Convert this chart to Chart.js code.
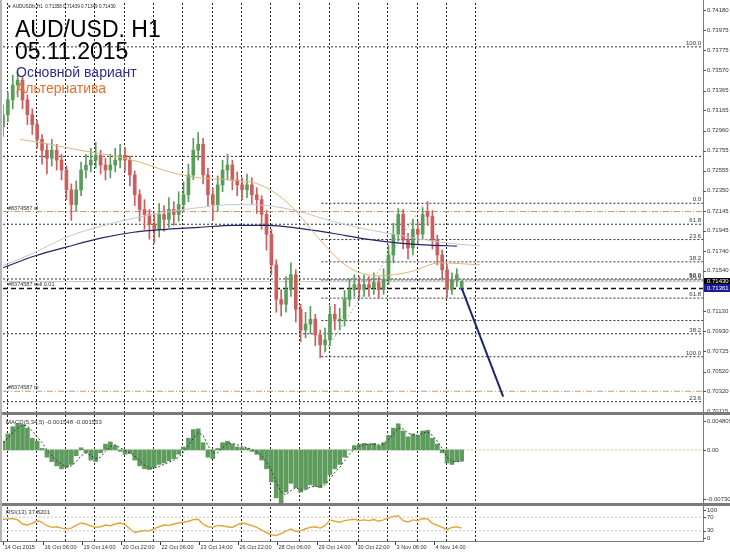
<!DOCTYPE html>
<html>
<head>
<meta charset="utf-8">
<title>AUD/USD H1</title>
<script src="https://cdn.jsdelivr.net/npm/chart.js@4.4.1/dist/chart.umd.min.js"></script>
<style>
  html, body { margin: 0; padding: 0; background: #fff; }
  body { position: relative; width: 730px; height: 552px; overflow: hidden; font-family: "Liberation Sans", Arial, sans-serif; }
  canvas { position: absolute; left: 0; }
  #main { top: 0; width: 730px; height: 412px; }
  #macd { top: 415px; width: 730px; height: 88px; }
  #rsi { top: 506px; width: 730px; height: 46px; }
  .sep { position: absolute; left: 0; width: 730px; height: 3px; background: #7b7b7b; }
  .edge { position: absolute; left: 0; top: 0; width: 2px; height: 541px; background: #b4b4b4; }
  .txt { position: absolute; white-space: nowrap; }
</style>
</head>
<body>
<canvas id="main" width="730" height="412"></canvas>
<div class="sep" style="top:412px"></div>
<canvas id="macd" width="730" height="88"></canvas>
<div class="sep" style="top:503px"></div>
<canvas id="rsi" width="730" height="46"></canvas>
<div class="edge"></div>
<div class="txt" style="left:7px;top:4px;font-size:4.6px;line-height:5px;color:#222">&#9660; AUDUSDfx,H1 &nbsp;0.71358 0.71439 0.71349 0.71430</div>
<div class="txt" style="left:15px;top:18px;font-size:23px;line-height:23px;color:#000">AUD/USD. H1</div>
<div class="txt" style="left:15px;top:40px;font-size:23px;line-height:23px;color:#000">05.11.2015</div>
<div class="txt" style="left:16px;top:65px;font-size:14px;line-height:14px;color:#2e2e8c">Основной вариант</div>
<div class="txt" style="left:16px;top:81px;font-size:14px;line-height:14px;color:#e8702a">Альтернатива</div>
<script>
// one candle every 4 hourly bars
const barsPerCandle = 4;

const candleOpen = [0.7300,0.7312,0.7327,0.7342,0.7347,0.7327,0.7312,0.7302,0.7287,0.7276,
  0.7268,0.7276,0.7266,0.7256,0.7236,0.7221,0.7236,0.7256,0.7261,0.7266,
  0.7271,0.7261,0.7256,0.7261,0.7266,0.7271,0.7266,0.7251,0.7231,0.7216,
  0.7211,0.7201,0.7196,0.7211,0.7206,0.7216,0.7211,0.7221,0.7231,0.7251,
  0.7276,0.7282,0.7251,0.7231,0.7221,0.7241,0.7256,0.7261,0.7246,0.7241,
  0.7236,0.7241,0.7231,0.7226,0.7211,0.7191,0.7160,0.7125,0.7120,0.7135,
  0.7150,0.7115,0.7094,0.7100,0.7105,0.7089,0.7079,0.7084,0.7110,0.7103,
  0.7105,0.7125,0.7135,0.7140,0.7135,0.7140,0.7137,0.7142,0.7135,0.7145,
  0.7170,0.7191,0.7211,0.7185,0.7177,0.7196,0.7191,0.7214,0.7209,0.7185,
  0.7170,0.7155,0.7135,0.7145,0.71358];
const candleClose = [0.7312,0.7327,0.7342,0.7347,0.7327,0.7312,0.7302,0.7287,0.7276,0.7268,
  0.7276,0.7266,0.7256,0.7236,0.7221,0.7236,0.7256,0.7261,0.7266,0.7271,
  0.7261,0.7256,0.7261,0.7266,0.7271,0.7266,0.7251,0.7231,0.7216,0.7211,
  0.7201,0.7196,0.7211,0.7206,0.7216,0.7211,0.7221,0.7231,0.7251,0.7276,
  0.7282,0.7251,0.7231,0.7221,0.7241,0.7256,0.7261,0.7246,0.7241,0.7236,
  0.7241,0.7231,0.7226,0.7211,0.7191,0.7160,0.7125,0.7120,0.7135,0.7150,
  0.7115,0.7094,0.7100,0.7105,0.7089,0.7079,0.7084,0.7110,0.7105,0.7105,
  0.7125,0.7135,0.7140,0.7135,0.7140,0.7137,0.7142,0.7135,0.7145,0.7170,
  0.7191,0.7211,0.7185,0.7177,0.7196,0.7191,0.7211,0.7209,0.7185,0.7170,
  0.7155,0.7135,0.7145,0.7150,0.71430];
const candleHigh = [0.7322,0.7335,0.7352,0.7356,0.7350,0.7332,0.7318,0.7306,0.7292,0.7282,
  0.7287,0.7282,0.7272,0.7260,0.7242,0.7245,0.7264,0.7272,0.7278,0.7284,
  0.7276,0.7268,0.7272,0.7278,0.7282,0.7279,0.7270,0.7255,0.7236,0.7226,
  0.7216,0.7212,0.7222,0.7220,0.7228,0.7224,0.7234,0.7244,0.7262,0.7288,
  0.7294,0.7288,0.7258,0.7238,0.7250,0.7266,0.7272,0.7266,0.7254,0.7248,
  0.7252,0.7248,0.7238,0.7230,0.7215,0.7196,0.7165,0.7135,0.7148,0.7162,
  0.7155,0.7120,0.7112,0.7118,0.7110,0.7094,0.7096,0.7118,0.7120,0.7116,
  0.7134,0.7146,0.7150,0.7148,0.7150,0.7148,0.7152,0.7148,0.7156,0.7180,
  0.7202,0.7217,0.7216,0.7192,0.7206,0.7204,0.7218,0.7224,0.7215,0.7190,
  0.7175,0.7160,0.7152,0.7156,0.71439];
const candleLow = [0.7290,0.7305,0.7318,0.7330,0.7318,0.7302,0.7292,0.7278,0.7262,0.7252,
  0.7260,0.7256,0.7246,0.7226,0.7205,0.7214,0.7230,0.7248,0.7254,0.7258,
  0.7252,0.7246,0.7248,0.7254,0.7258,0.7255,0.7240,0.7220,0.7204,0.7196,
  0.7186,0.7182,0.7188,0.7194,0.7198,0.7200,0.7204,0.7214,0.7224,0.7246,
  0.7266,0.7242,0.7220,0.7205,0.7214,0.7234,0.7246,0.7236,0.7230,0.7226,
  0.7228,0.7222,0.7212,0.7196,0.7175,0.7150,0.7112,0.7108,0.7112,0.7128,
  0.7102,0.7082,0.7086,0.7090,0.7078,0.7066,0.7072,0.7078,0.7094,0.7094,
  0.7098,0.7118,0.7128,0.7126,0.7128,0.7128,0.7130,0.7126,0.7130,0.7140,
  0.7162,0.7184,0.7176,0.7166,0.7170,0.7180,0.7186,0.7200,0.7176,0.7160,
  0.7146,0.7127,0.7130,0.7138,0.71349];

// moving averages: bar index / price
const navyMaBars = [0,26,52,80,107,134,161,189,216,243,270,298,325,350,372];
const navyMaPrices = [0.7157,0.7169,0.7178,0.7187,0.7193,0.7196,0.7198,0.7200,0.7200,0.7197,0.7192,0.7186,0.7182,0.7180,0.7179];
const greyMaBars = [0,25,52,80,110,137,161,189,216,243,270,298,325,358,391];
const greyMaPrices = [0.7159,0.7172,0.7188,0.7199,0.7208,0.7214,0.7218,0.7221,0.7220,0.7214,0.7204,0.7196,0.7190,0.7183,0.7179];
const tanMaBars = [14,39,63,88,112,137,161,186,211,235,260,284,309,334,358,391];
const tanMaPrices = [0.7287,0.7282,0.7276,0.7271,0.7264,0.7254,0.7248,0.7246,0.7241,0.7221,0.7185,0.7157,0.7149,0.7153,0.7162,0.7160];

// fibonacci levels
const fibANames = ["23.6","38.2","50.0","61.8","","100.0"];
const fibAPrices = [0.70215,0.70902,0.71457,0.72011,0.72698,0.73807];
const fibAStartBar = 0;
const fibBNames = ["0.0","23.6","38.2","50.0","61.8","","100.0"];
const fibBPrices = [0.72223,0.71856,0.71630,0.71447,0.71263,0.71036,0.70670];
const fibBStartBar = 261;
const fibBTrendBars = [261,345];
const fibBTrendPrices = [0.70670,0.72223];

// order lines
const orderNames = ["#8374587 sl","#8374587 sell 0.01","#8374587 tp"];
const orderPrices = [0.72140,0.71361,0.70320];
const bidPrice = 0.71430;

// forecast
const forecastBars = [376,410];
const forecastPrices = [0.71365,0.70266];

// indicators, one value per candle
const macdMain = [0.0012,0.0022,0.0032,0.0036,0.0035,0.0030,0.0016,0.0012,0.0002,-0.0010,
  -0.0016,-0.0022,-0.0026,-0.0024,-0.0020,-0.0008,0.0003,-0.0004,-0.0014,-0.0016,
  -0.0004,0.0008,0.0011,0.0006,-0.0002,-0.0006,-0.0005,-0.0014,-0.0022,-0.0026,
  -0.0027,-0.0024,-0.0020,-0.0018,-0.0015,-0.0012,-0.0006,0.0004,0.0016,0.0028,
  0.0029,0.0010,-0.0010,-0.0012,0.0002,0.0010,0.0012,0.0008,0.0004,0.0003,
  0.0002,-0.0002,-0.0006,-0.0014,-0.0026,-0.0044,-0.0066,-0.0073,-0.0058,-0.0046,
  -0.0052,-0.0058,-0.0054,-0.0048,-0.0050,-0.0052,-0.0046,-0.0034,-0.0026,-0.0020,
  -0.0010,0.0000,0.0006,0.0008,0.0009,0.0008,0.0009,0.0006,0.0010,0.0020,
  0.0030,0.0036,0.0026,0.0018,0.0022,0.0020,0.0026,0.0027,0.0016,0.0008,
  -0.0004,-0.0018,-0.0020,-0.0016,-0.001548];
const macdSignal = [0.0010,0.0016,0.0024,0.0030,0.0034,0.0033,0.0026,0.0018,0.0010,0.0000,
  -0.0008,-0.0015,-0.0020,-0.0023,-0.0022,-0.0016,-0.0008,-0.0004,-0.0008,-0.0012,
  -0.0010,-0.0002,0.0005,0.0007,0.0003,-0.0001,-0.0004,-0.0008,-0.0015,-0.0021,
  -0.0025,-0.0025,-0.0023,-0.0020,-0.0017,-0.0014,-0.0010,-0.0003,0.0006,0.0016,
  0.0024,0.0020,0.0006,-0.0004,-0.0004,0.0003,0.0009,0.0009,0.0007,0.0005,
  0.0003,0.0001,-0.0003,-0.0008,-0.0016,-0.0028,-0.0044,-0.0058,-0.0062,-0.0056,
  -0.0052,-0.0055,-0.0055,-0.0051,-0.0050,-0.0050,-0.0048,-0.0040,-0.0031,-0.0024,
  -0.0015,-0.0006,0.0001,0.0005,0.0007,0.0008,0.0008,0.0007,0.0008,0.0014,
  0.0022,0.0030,0.0029,0.0023,0.0021,0.0020,0.0023,0.0025,0.0020,0.0012,
  0.0002,-0.0010,-0.0016,-0.0016,-0.001553];
const rsiValues = [63,65,66,62,50,47,52,60,55,45,
  40,42,38,36,38,46,53,50,44,40,
  42,47,45,50,53,48,36,25,28,31,
  30,36,42,47,46,50,53,55,58,63,
  64,50,42,40,46,44,42,40,48,53,
  50,45,40,32,25,18,16,22,30,35,
  28,30,36,40,42,38,45,62,58,55,
  60,62,64,60,62,60,63,58,62,68,
  72,74,60,56,62,60,66,65,52,46,
  40,34,40,42,37.82];

// axes
const priceTicks = [0.74180,0.73975,0.73775,0.73570,0.73365,0.73165,0.72960,0.72755,0.72555,0.72350,
  0.72145,0.71945,0.71740,0.71540,0.71130,0.70930,0.70725,0.70520,0.70320,0.70115];
const dayStartBars = [3,27,51,75,99,123,147,171,195,219,243,267,291,315,339,363,387];
const timeLabels = ["14 Oct 2015","16 Oct 06:00","19 Oct 14:00","20 Oct 22:00","22 Oct 06:00","23 Oct 14:00",
  "26 Oct 22:00","28 Oct 06:00","29 Oct 14:00","30 Oct 22:00","3 Nov 06:00","4 Nov 14:00"];
const timeLabelBars = [0,33,65,97,129,161,193,225,257,289,321,353];

const xMax = 573.8;
const upColor = "#5a9c5a";
const downColor = "#cc5e5e";
const smallFont = '6px "Liberation Sans", Arial, sans-serif';

const candleBar = i => i * barsPerCandle;
const candleColors = candleClose.map((c, i) => c >= candleOpen[i] ? upColor : downColor);

const hLine = (x0, price, color, dash, width, order) => ({
    type: "line",
    data: [{x: x0, y: price}, {x: xMax, y: price}],
    borderColor: color,
    borderDash: dash,
    borderWidth: width,
    pointRadius: 0,
    order: order
});
const maLine = (bars, prices, color, width) => ({
    type: "line",
    data: bars.map((b, i) => ({x: b, y: prices[i]})),
    borderColor: color,
    borderWidth: width,
    pointRadius: 0,
    cubicInterpolationMode: "monotone",
    order: 1
});

const gridPlugin = {
    id: "dayGrid",
    beforeDatasetsDraw(chart) {
        const {ctx, chartArea: a, scales: {x}} = chart;
        ctx.save();
        ctx.strokeStyle = "#222";
        ctx.lineWidth = 1;
        ctx.setLineDash([2, 2]);
        dayStartBars.forEach(b => {
            const px = Math.round(x.getPixelForValue(b)) + 0.5;
            ctx.beginPath();
            ctx.moveTo(px, a.top);
            ctx.lineTo(px, a.bottom);
            ctx.stroke();
        });
        ctx.restore();
    },
    afterDraw(chart) {
        const {ctx, chartArea: a} = chart;
        ctx.save();
        ctx.strokeStyle = "#7a7a7a";
        ctx.lineWidth = 1;
        ctx.beginPath();
        ctx.moveTo(a.right + 0.5, 0);
        ctx.lineTo(a.right + 0.5, a.bottom);
        ctx.stroke();
        ctx.restore();
    }
};

const rightLabel = (ctx, a, y, text) => {
    ctx.beginPath();
    ctx.moveTo(a.right, Math.round(y) + 0.5);
    ctx.lineTo(a.right + 3, Math.round(y) + 0.5);
    ctx.stroke();
    ctx.fillText(text, a.right + 4, y);
};

const mainLabels = {
    id: "mainLabels",
    afterDraw(chart) {
        const {ctx, chartArea: a, scales: {y}} = chart;
        ctx.save();
        ctx.font = smallFont;
        ctx.fillStyle = "#333";
        ctx.strokeStyle = "#555";
        ctx.lineWidth = 1;
        ctx.textBaseline = "middle";
        ctx.textAlign = "left";
        priceTicks.forEach(t => rightLabel(ctx, a, y.getPixelForValue(t), t.toFixed(5)));

        // price boxes
        const box = (price, bg) => {
            const py = y.getPixelForValue(price);
            ctx.fillStyle = bg;
            ctx.fillRect(a.right + 1, Math.round(py) - 4, 27, 8);
            ctx.fillStyle = "#fff";
            ctx.fillText(price.toFixed(5), a.right + 4, py);
        };
        box(bidPrice, "#000");
        box(orderPrices[1], "#1a1a90");

        // fibo labels
        ctx.fillStyle = "#333";
        ctx.textAlign = "right";
        ctx.textBaseline = "alphabetic";
        fibANames.forEach((n, i) => n && ctx.fillText(n, a.right - 2, y.getPixelForValue(fibAPrices[i]) - 2));
        fibBNames.forEach((n, i) => n && ctx.fillText(n, a.right - 2, y.getPixelForValue(fibBPrices[i]) - 2));

        // order labels
        ctx.textAlign = "left";
        ctx.font = '5.5px "Liberation Sans", Arial, sans-serif';
        orderNames.forEach((n, i) => ctx.fillText(n, a.left + 5, y.getPixelForValue(orderPrices[i]) - 2));
        ctx.restore();
    }
};

const levelSets = [];
fibAPrices.forEach(p => levelSets.push(hLine(fibAStartBar, p, "#333", [2, 2], 1, 6)));
fibBPrices.forEach(p => levelSets.push(hLine(fibBStartBar, p, "#333", [2, 2], 1, 6)));
levelSets.push(hLine(0, orderPrices[0], "#c89a70", [6, 2, 1, 2], 1, 5));
levelSets.push(hLine(0, orderPrices[2], "#c89a70", [6, 2, 1, 2], 1, 5));
levelSets.push(hLine(0, bidPrice, "#c4c4c4", [], 1, 5));
levelSets.push(hLine(0, orderPrices[1], "#111", [5, 3], 1.5, 4));

new Chart(document.getElementById("main"), {
    type: "bar",
    data: {
        datasets: [
            ...levelSets,
            {
                type: "line",
                data: fibBTrendBars.map((b, i) => ({x: b, y: fibBTrendPrices[i]})),
                borderColor: "#b0b0b0",
                borderDash: [2, 2],
                borderWidth: 1,
                pointRadius: 0,
                order: 6
            },
            {
                data: candleLow.map((l, i) => ({x: candleBar(i), y: [l, candleHigh[i]]})),
                backgroundColor: candleColors,
                barThickness: 1,
                grouped: false,
                borderSkipped: false,
                order: 3
            },
            {
                data: candleOpen.map((o, i) => ({x: candleBar(i), y: [o, candleClose[i]]})),
                backgroundColor: candleColors,
                barThickness: 3,
                grouped: false,
                borderSkipped: false,
                order: 2
            },
            maLine(tanMaBars, tanMaPrices, "#d9b877", 1),
            maLine(greyMaBars, greyMaPrices, "#c6c6c6", 1),
            maLine(navyMaBars, navyMaPrices, "#1f2566", 1.2),
            {
                type: "line",
                data: forecastBars.map((b, i) => ({x: b, y: forecastPrices[i]})),
                borderColor: "#1c2470",
                borderWidth: 2,
                pointRadius: 0,
                order: 0
            }
        ]
    },
    options: {
        responsive: false,
        animation: false,
        devicePixelRatio: 1,
        layout: {padding: {left: 3, right: 27, top: 3, bottom: 0}, autoPadding: false},
        plugins: {legend: {display: false}, tooltip: {enabled: false}},
        scales: {
            x: {type: "linear", display: false, min: 0, max: xMax, offset: false},
            y: {display: false, min: 0.70110, max: 0.74251, beginAtZero: false}
        }
    },
    plugins: [gridPlugin, mainLabels]
});

new Chart(document.getElementById("macd"), {
    type: "bar",
    data: {
        datasets: [
            {
                type: "line",
                data: [{x: 0, y: 0}, {x: xMax, y: 0}],
                borderColor: "#cfc68a",
                borderDash: [2, 2],
                borderWidth: 1,
                pointRadius: 0,
                order: 3
            },
            {
                type: "line",
                data: macdSignal.map((v, i) => ({x: candleBar(i), y: v})),
                borderColor: "#3a3a3a",
                borderDash: [2, 2],
                borderWidth: 1,
                pointRadius: 0,
                order: 0
            },
            {
                data: macdMain.map((v, i) => ({x: candleBar(i), y: v})),
                backgroundColor: "#5e9c5e",
                barThickness: 4,
                grouped: false,
                order: 1
            }
        ]
    },
    options: {
        responsive: false,
        animation: false,
        devicePixelRatio: 1,
        layout: {padding: {left: 3, right: 27, top: 0, bottom: 0}, autoPadding: false},
        plugins: {legend: {display: false}, tooltip: {enabled: false}},
        scales: {
            x: {type: "linear", display: false, min: 0, max: xMax, offset: false},
            y: {display: false, min: -0.007306, max: 0.004805, beginAtZero: false}
        }
    },
    plugins: [gridPlugin, {
        id: "macdLabels",
        afterDraw(chart) {
            const {ctx, chartArea: a, scales: {y}} = chart;
            ctx.save();
            ctx.font = smallFont;
            ctx.fillStyle = "#333";
            ctx.strokeStyle = "#555";
            ctx.textBaseline = "middle";
            rightLabel(ctx, a, a.top + 6, "0.004805");
            rightLabel(ctx, a, y.getPixelForValue(0), "0.00");
            rightLabel(ctx, a, a.bottom - 4, "-0.007306");
            ctx.fillText("MACD(5,34,5) -0.001548 -0.001553", a.left + 3, a.top + 7);
            ctx.restore();
        }
    }]
});

new Chart(document.getElementById("rsi"), {
    type: "line",
    data: {
        datasets: [
            {
                data: [{x: 0, y: 70}, {x: xMax, y: 70}],
                borderColor: "#c4c4c4",
                borderDash: [2, 2],
                borderWidth: 1,
                pointRadius: 0
            },
            {
                data: [{x: 0, y: 30}, {x: xMax, y: 30}],
                borderColor: "#c4c4c4",
                borderDash: [2, 2],
                borderWidth: 1,
                pointRadius: 0
            },
            {
                data: rsiValues.map((v, i) => ({x: candleBar(i), y: v})),
                borderColor: "#e2a634",
                borderWidth: 1.4,
                pointRadius: 0
            }
        ]
    },
    options: {
        responsive: false,
        animation: false,
        devicePixelRatio: 1,
        layout: {padding: {left: 3, right: 27, top: 1, bottom: 11}, autoPadding: false},
        plugins: {legend: {display: false}, tooltip: {enabled: false}},
        scales: {
            x: {type: "linear", display: false, min: 0, max: xMax, offset: false},
            y: {display: false, min: 0, max: 100}
        }
    },
    plugins: [gridPlugin, {
        id: "rsiLabels",
        afterDraw(chart) {
            const {ctx, chartArea: a, scales: {x, y}} = chart;
            ctx.save();
            ctx.font = smallFont;
            ctx.fillStyle = "#333";
            ctx.strokeStyle = "#555";
            ctx.lineWidth = 1;
            ctx.textBaseline = "middle";
            rightLabel(ctx, a, a.top + 3, "100");
            rightLabel(ctx, a, y.getPixelForValue(70), "70");
            rightLabel(ctx, a, y.getPixelForValue(30), "30");
            rightLabel(ctx, a, a.bottom - 3, "0");
            ctx.fillText("RSI(13) 37.8201", a.left + 3, a.top + 5);

            // bottom time axis
            ctx.strokeStyle = "#7a7a7a";
            ctx.beginPath();
            ctx.moveTo(0, a.bottom + 0.5);
            ctx.lineTo(a.right + 1, a.bottom + 0.5);
            ctx.stroke();
            ctx.strokeStyle = "#333";
            ctx.font = '5.6px "Liberation Sans", Arial, sans-serif';
            timeLabelBars.forEach((b, i) => {
                const px = Math.round(x.getPixelForValue(b)) + 0.5;
                ctx.beginPath();
                ctx.moveTo(px, a.bottom + 1);
                ctx.lineTo(px, a.bottom + 4);
                ctx.stroke();
                ctx.fillText(timeLabels[i], px + 1, a.bottom + 6);
            });
            ctx.restore();
        }
    }]
});
</script>
</body>
</html>
